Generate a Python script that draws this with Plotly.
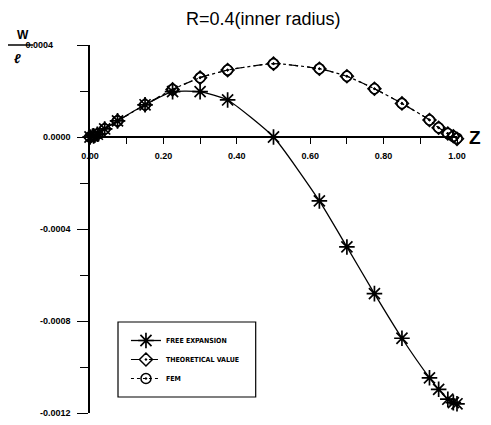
import plotly.graph_objects as go

# Data
z_vals = [0.0, 0.01, 0.02, 0.04, 0.075, 0.15, 0.225, 0.30, 0.375, 0.50,
          0.625, 0.70, 0.775, 0.85, 0.925, 0.95, 0.975, 0.99, 1.0]
free_expansion = [0.0, 0.000005, 0.000012, 0.000035, 0.00007, 0.00014, 0.000197,
                  0.000197, 0.000161, 0.0, -0.000278, -0.000478, -0.000681,
                  -0.000875, -0.001047, -0.001097, -0.00114, -0.001155, -0.00116]
theoretical = [0.0, 0.000005, 0.000012, 0.000035, 0.00007, 0.00014, 0.000207,
               0.000258, 0.000291, 0.000319, 0.000297, 0.000264, 0.00021,
               0.000146, 0.000074, 0.00004, 0.000015, 0.000003, -0.000008]
fem = [0.0, 0.000005, 0.000012, 0.000035, 0.00007, 0.00014, 0.000207,
       0.000258, 0.000291, 0.000319, 0.000297, 0.000264, 0.00021,
       0.000146, 0.000074, 0.00004, 0.000015, 0.000003, -0.000005]
names = ["FREE EXPANSION", "THEORETICAL VALUE", "FEM"]
x_tickvals = [0.0, 0.2, 0.4, 0.6, 0.8, 1.0]
x_ticklabels = ["0.00", "0.20", "0.40", "0.60", "0.80", "1.00"]
y_tickvals = [0.0004, 0.0, -0.0004, -0.0008, -0.0012]
y_ticklabels = ["0.0004" + "\u00a0" * 7, "0.0000", "-0.0004", "-0.0008", "-0.0012"]

fig = go.Figure()
fig.add_trace(go.Scatter(
    x=z_vals, y=free_expansion, name=names[0], mode="lines+markers",
    line=dict(color="black", width=1.3, shape="spline", smoothing=0.5),
    marker=dict(symbol="asterisk-open", size=13, color="black",
                line=dict(color="black", width=1.7)),
    cliponaxis=False))
fig.add_trace(go.Scatter(
    x=z_vals, y=theoretical, name=names[1], mode="lines+markers",
    line=dict(color="black", width=1.2, dash="dash", shape="spline", smoothing=0.5),
    marker=dict(symbol="diamond-open-dot", size=10, color="black",
                line=dict(color="black", width=1.5)),
    cliponaxis=False))
fig.add_trace(go.Scatter(
    x=z_vals, y=fem, name=names[2], mode="lines+markers",
    line=dict(color="black", width=1.2, dash="dot", shape="spline", smoothing=0.5),
    marker=dict(symbol="circle-open-dot", size=10, color="black",
                line=dict(color="black", width=1.5)),
    cliponaxis=False))

tick_font = dict(family="Liberation Sans, Arial", size=9, color="black", weight="bold")

fig.update_layout(
    width=491, height=425,
    margin=dict(l=82, r=42, t=37, b=20, autoexpand=False),
    paper_bgcolor="white", plot_bgcolor="white",
    showlegend=True,
    legend=dict(x=0.098, y=0.2364, xanchor="left", yanchor="top",
                borderwidth=0, bgcolor="rgba(0,0,0,0)",
                font=dict(family="Liberation Sans Narrow, DejaVu Sans Condensed", size=7,
                          color="black", weight="bold"),
                tracegroupgap=0),
    xaxis=dict(range=[0, 1.0], anchor="free", position=0.75, side="bottom",
               automargin=False,
               showline=True, linecolor="black", linewidth=1.5,
               showgrid=False, zeroline=False,
               tickmode="array", tickvals=x_tickvals, ticktext=x_ticklabels,
               ticks="outside", ticklen=6, tickwidth=1.2, tickcolor="black",
               ticklabelstandoff=4,
               minor=dict(dtick=0.1, ticks="outside", ticklen=6, tickwidth=1.2,
                          tickcolor="black", showgrid=False),
               tickfont=tick_font),
    yaxis=dict(range=[-0.0012, 0.0004], automargin=False,
               showline=True, linecolor="black", linewidth=1.5,
               showgrid=False, zeroline=False,
               tickmode="array", tickvals=y_tickvals, ticktext=y_ticklabels,
               ticks="outside", ticklen=11, tickwidth=1.2, tickcolor="black",
               ticklabelstandoff=5,
               minor=dict(dtick=0.0002, ticks="outside", ticklen=8, tickwidth=1.2,
                          tickcolor="black", showgrid=False),
               tickfont=tick_font),
    annotations=[
        dict(text="R=0.4(inner radius)", xref="paper", yref="paper", x=0.473, y=1.0,
             yshift=26, showarrow=False, xanchor="center", yanchor="middle",
             font=dict(family="Liberation Sans, Arial", size=18, color="black")),
        dict(text="<b>W</b>", xref="paper", yref="paper", x=-0.1826, y=1.0, yshift=10,
             showarrow=False, xanchor="center", yanchor="middle",
             font=dict(family="Liberation Sans, Arial", size=12, color="black")),
        dict(text="<b><i>ℓ</i></b>", xref="paper", yref="paper", x=-0.197, y=1.0, yshift=-13,
             showarrow=False, xanchor="center", yanchor="middle",
             font=dict(family="Liberation Sans, Arial", size=13, color="black")),
        dict(text="<b>Z</b>", xref="paper", yref="paper", x=1.0, y=0.75, xshift=18,
             showarrow=False, xanchor="center", yanchor="middle",
             font=dict(family="Liberation Sans, Arial", size=19, color="black")),
    ],
    shapes=[
        dict(type="line", xref="paper", yref="paper", x0=-0.226, x1=-0.155, y0=1.0, y1=1.0,
             line=dict(color="black", width=1.5)),
        dict(type="rect", xref="paper", yref="paper", x0=0.0763, x1=0.4515,
             y0=0.0435, y1=0.2473, line=dict(color="black", width=1.2)),
    ],
)

fig.write_html("out.html")
